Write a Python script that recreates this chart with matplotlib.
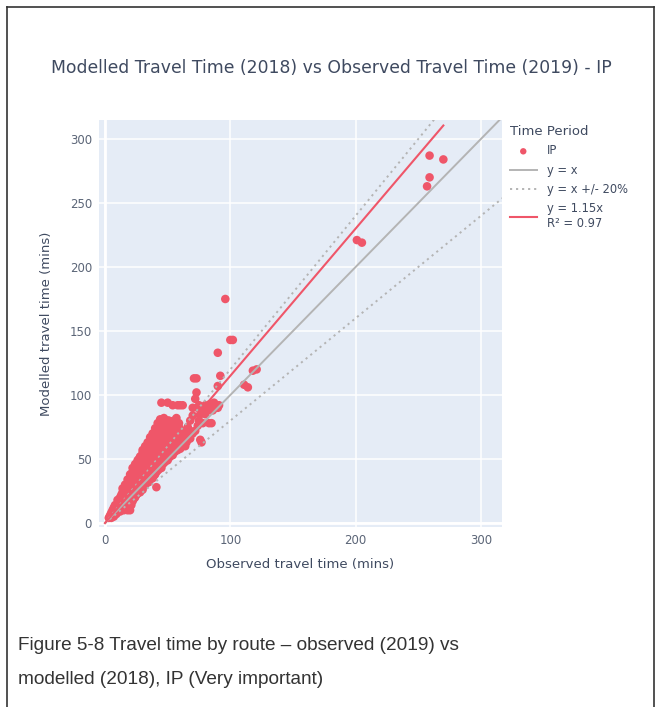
import numpy as np
import matplotlib.pyplot as plt
from matplotlib.lines import Line2D

# (observed 2019, modelled 2018) travel times per route, mins
routes_0_20 = [
    (3, 4), (4, 6), (5, 4), (5, 8), (6, 7), (6, 10), (7, 5), (7, 9), (7, 12), (8, 8),
    (8, 11), (8, 14), (9, 7), (9, 10), (9, 13), (10, 9), (10, 12), (10, 15), (10, 18),
    (11, 10), (11, 14), (11, 17), (12, 9), (12, 13), (12, 16), (12, 20), (13, 11),
    (13, 15), (13, 19), (13, 22), (14, 12), (14, 16), (14, 20), (14, 24), (14, 27),
    (15, 10), (15, 14), (15, 18), (15, 22), (15, 26), (16, 13), (16, 17), (16, 21),
    (16, 25), (16, 30), (17, 11), (17, 15), (17, 19), (17, 23), (17, 28), (18, 10),
    (18, 14), (18, 18), (18, 22), (18, 26), (18, 30), (18, 34), (19, 12), (19, 17),
    (19, 21), (19, 25), (19, 29), (19, 33), (20, 10), (20, 15), (20, 19), (20, 23),
    (20, 27), (20, 31), (20, 35), (20, 38),
]
routes_20_40 = [
    (21, 14), (21, 20), (21, 24), (21, 28), (21, 33), (21, 37), (22, 17), (22, 22),
    (22, 26), (22, 30), (22, 35), (22, 40), (22, 43), (23, 19), (23, 24), (23, 28),
    (23, 32), (23, 38), (23, 42), (24, 20), (24, 26), (24, 30), (24, 34), (24, 40),
    (24, 44), (24, 46), (25, 22), (25, 27), (25, 32), (25, 36), (25, 41), (25, 46),
    (26, 23), (26, 29), (26, 33), (26, 38), (26, 43), (26, 49), (27, 25), (27, 30),
    (27, 35), (27, 40), (27, 45), (27, 50), (28, 24), (28, 31), (28, 36), (28, 41),
    (28, 47), (28, 52), (29, 27), (29, 33), (29, 38), (29, 43), (29, 49), (30, 26),
    (30, 31), (30, 36), (30, 40), (30, 45), (30, 52), (30, 55), (30, 57), (31, 29),
    (31, 34), (31, 39), (31, 44), (31, 50), (32, 30), (32, 36), (32, 41), (32, 47),
    (32, 54), (32, 60), (33, 31), (33, 37), (33, 43), (33, 49), (33, 56), (34, 33),
    (34, 39), (34, 45), (34, 51), (34, 58), (34, 63), (35, 32), (35, 38), (35, 42),
    (35, 47), (35, 53), (35, 60), (36, 34), (36, 40), (36, 46), (36, 55), (36, 62),
    (36, 67), (37, 36), (37, 42), (37, 48), (37, 57), (38, 35), (38, 41), (38, 47),
    (38, 52), (38, 60), (38, 65), (38, 70), (39, 37), (39, 44), (39, 50), (39, 56),
    (39, 62), (40, 38), (40, 44), (40, 49), (40, 55), (40, 63), (40, 70), (40, 74),
    (41, 28),
]
routes_40_60 = [
    (41, 40), (41, 46), (41, 53), (41, 60), (41, 67), (42, 41), (42, 48), (42, 56),
    (42, 64), (42, 72), (42, 78), (43, 42), (43, 50), (43, 58), (43, 66), (44, 44),
    (44, 52), (44, 61), (44, 70), (44, 81), (45, 43), (45, 50), (45, 57), (45, 65),
    (45, 74), (45, 94), (46, 46), (46, 54), (46, 62), (46, 72), (46, 80), (47, 47),
    (47, 55), (47, 63), (47, 76), (47, 82), (48, 48), (48, 56), (48, 66), (48, 78),
    (49, 50), (49, 58), (49, 68), (49, 79), (50, 49), (50, 57), (50, 65), (50, 74),
    (50, 80), (50, 94), (51, 51), (51, 60), (51, 70), (51, 80), (52, 52), (52, 62),
    (52, 72), (53, 54), (53, 64), (53, 76), (53, 79), (54, 53), (54, 60), (54, 68),
    (54, 92), (55, 55), (55, 63), (55, 72), (55, 80), (56, 56), (56, 66), (56, 76),
    (56, 78), (57, 58), (57, 64), (57, 71), (57, 82), (58, 57), (58, 67), (58, 92),
    (59, 60), (59, 69), (59, 75), (59, 78), (60, 58), (60, 64), (60, 72), (60, 92),
]
routes_60_up = [
    (61, 60), (61, 68), (62, 62), (62, 72), (62, 92), (63, 64), (63, 70), (64, 60),
    (64, 66), (65, 63), (65, 69), (66, 65), (66, 75), (67, 68), (68, 66), (68, 72),
    (68, 80), (70, 70), (70, 84), (70, 90), (71, 113), (72, 72), (72, 97), (73, 102),
    (73, 113), (74, 76), (74, 90), (75, 80), (75, 92), (76, 65), (76, 85), (77, 63),
    (78, 90), (78, 78), (80, 85), (80, 92), (82, 88), (83, 78), (84, 93), (85, 78),
    (85, 90), (86, 88), (87, 94), (88, 92), (90, 90), (90, 107), (91, 92), (92, 115),
    (90, 133), (96, 175), (100, 143), (102, 143), (111, 108), (114, 106), (118, 119),
    (121, 120), (201, 221), (205, 219), (257, 263), (259, 270), (259, 287), (270, 284),
]
fit_slope = 1.15
band = 0.20

pts = np.array(routes_0_20 + routes_20_40 + routes_40_60 + routes_60_up, dtype=float)
obs, mod = pts[:, 0], pts[:, 1]

pink = "#ef5669"
grey = "#b4b4b4"
tick_col = "#5b6577"
txt_col = "#3f4a60"

fig = plt.figure(figsize=(6.59, 7.07), dpi=100)
fig.patch.set_facecolor("white")

# page frame around the figure
frame = dict(color="#333333", lw=1.2)
fig.add_artist(Line2D([7 / 659, 7 / 659], [0, 1 - 7 / 707], **frame))
fig.add_artist(Line2D([654 / 659, 654 / 659], [0, 1 - 7 / 707], **frame))
fig.add_artist(Line2D([7 / 659, 654 / 659], [1 - 7 / 707, 1 - 7 / 707], **frame))

ax = fig.add_axes([99 / 659, 1 - 527 / 707, 403 / 659, 407 / 707])
ax.set_facecolor("#e5ecf6")
for s in ax.spines.values():
    s.set_visible(False)

ax.set_xlim(-4.8, 316.8)
ax.set_ylim(-3.1, 314.8)
ax.set_xticks([0, 100, 200, 300])
ax.set_yticks([0, 50, 100, 150, 200, 250, 300])
ax.grid(color="white", lw=1.1)
ax.set_axisbelow(True)
ax.axhline(0, color="white", lw=2, zorder=1)
ax.axvline(0, color="white", lw=2, zorder=1)
ax.tick_params(length=0, labelsize=8.5, labelcolor=tick_col, pad=5)

ax.scatter(obs, mod, s=38, color=pink, edgecolors="none", zorder=2, label="IP")

x_ref = np.array([0, obs.max() * 1.25])
dots = (0, (1.1, 2.0))
ax.plot(x_ref, x_ref, color=grey, lw=1.4, zorder=3, label="y = x")
ax.plot(x_ref, x_ref * (1 + band), color=grey, lw=1.4, ls=dots, zorder=3,
        label="y = x +/- 20%")
ax.plot(x_ref, x_ref * (1 - band), color=grey, lw=1.4, ls=dots, zorder=3)
x_fit = np.array([0, obs.max()])
ax.plot(x_fit, x_fit * fit_slope, color=pink, lw=1.5, zorder=3,
        label="y = 1.15x\nR² = 0.97")

handles, labels = ax.get_legend_handles_labels()
leg = ax.legend(handles, labels, title="Time Period", loc="upper left",
                bbox_to_anchor=(510 / 659, 1 - 125 / 707), bbox_transform=fig.transFigure,
                frameon=False, fontsize=8.3, title_fontsize=9.5, alignment="left",
                handlelength=2.3, handletextpad=0.9, labelspacing=0.55,
                borderaxespad=0, borderpad=0, markerscale=0.75)
for t in leg.get_texts():
    t.set_color(txt_col)
leg.get_title().set_color(txt_col)

ax.set_xlabel("Observed travel time (mins)", fontsize=9.5, color=txt_col, labelpad=8)
ax.set_ylabel("Modelled travel time (mins)", fontsize=9.5, color=txt_col, labelpad=12)

fig.text(331 / 659, 1 - 68 / 707,
         "Modelled Travel Time (2018) vs Observed Travel Time (2019) - IP",
         ha="center", va="center", fontsize=12.4, color=txt_col)

fig.text(18 / 659, 1 - 645 / 707,
         "Figure 5-8 Travel time by route \u2013 observed (2019) vs",
         ha="left", va="center", fontsize=13.7, color="#333333", family="Liberation Sans")
fig.text(18 / 659, 1 - 680 / 707,
         "modelled (2018), IP (Very important)",
         ha="left", va="center", fontsize=13.7, color="#333333", family="Liberation Sans")

fig.savefig("out.png", dpi=100)
